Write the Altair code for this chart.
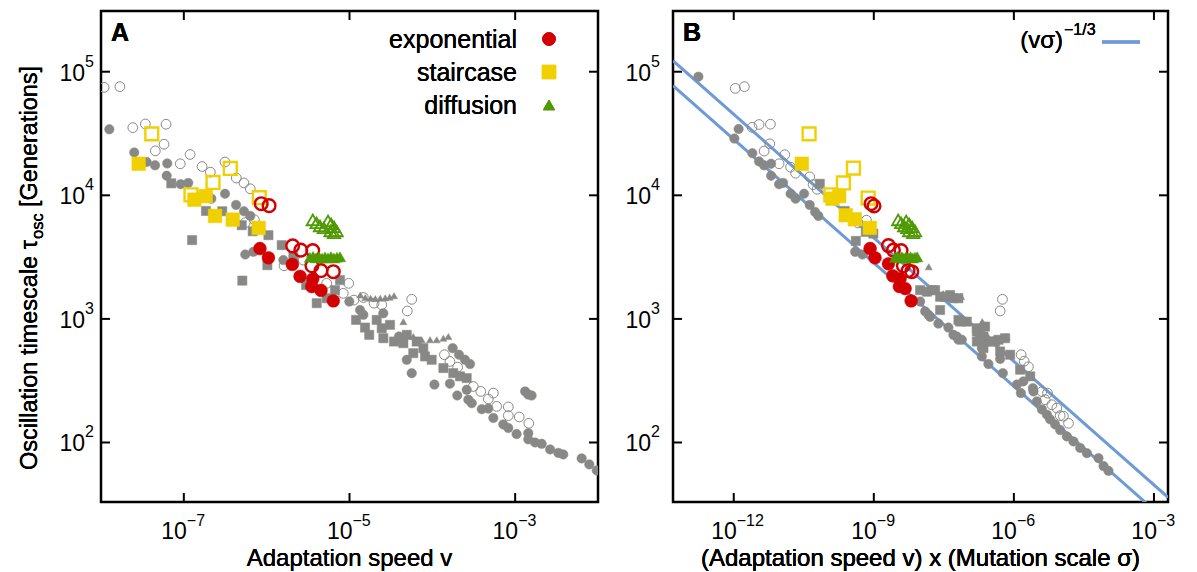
import altair as alt
import pandas as pd

FONT = "Liberation Sans"
GRAY = "#888886"
RED = "#d20000"
YEL = "#f0d000"
GRN = "#4f9a05"
BLUE = "#6e9bd6"

Y_DOMAIN = [33, 3.1e5]
A_X_DOMAIN = [1e-8, 1e-2]
B_X_DOMAIN = [5e-14, 2e-3]

# ---------------- Panel A : adaptation speed v ----------------
A_gray_open_v = [1.09e-8, 1.69e-8, 2.42e-8, 3.43e-8, 6.1e-8, 5.77e-8, 4.53e-8, 1.19e-7, 9.06e-8, 1.66e-7,
                 2.09e-7, 3.14e-7, 4.3e-7, 5.32e-7, 6.34e-7, 5.52e-7, 7.1e-7, 1.62e-6, 2.77e-6, 5.31e-6,
                 9.78e-6, 8.41e-6, 1.13e-5, 1.47e-5, 1.98e-5, 2.45e-5, 5.64e-5, 4.99e-5, 1.40e-4, 1.63e-4,
                 2.02e-4, 3.12e-4, 3.84e-4, 4.74e-4, 5.45e-4, 5.98e-4, 8.26e-4, 8.26e-4, 1.12e-3, 1.46e-3]
A_gray_open_t = [74700, 75700, 35300, 37800, 37600, 25900, 22900, 21400, 18000, 17100,
                 15400, 18600, 13800, 12600, 11300, 6010, 6360, 2690, 2990, 1940,
                 1940, 1610, 1420, 1490, 1340, 1300, 1440, 1160, 513, 453,
                 407, 284, 259, 225, 251, 196, 194, 165, 161, 143]

A_gray_fill_v = [1.26e-8, 2.52e-8, 3.56e-8, 4.49e-8, 6.31e-8, 6.21e-8, 9.16e-8, 1.13e-7, 2.15e-7, 3.14e-7,
                 4.27e-7, 5.32e-7, 6.34e-7, 5.52e-7, 6.9e-7, 1.59e-6, 9.95e-6, 1.34e-5, 1.47e-5, 2.56e-5,
                 3.96e-5, 4.91e-5, 5.64e-5, 1.06e-4, 1.63e-4, 1.76e-4, 2.1e-4, 2.48e-4, 2.85e-4, 2.0e-4,
                 2.6e-4, 2.72e-4, 2.99e-4, 3.95e-4, 4.74e-4, 5.45e-4, 7.19e-4, 8.26e-4, 1.04e-3, 1.44e-3,
                 1.44e-3, 1.74e-3, 2.09e-3, 2.64e-3, 3.32e-3, 3.81e-3, 6.35e-3, 7.85e-3, 9.66e-3, 1.32e-3,
                 1.44e-3, 1.58e-3]
A_gray_fill_t = [34200, 22200, 18600, 17500, 18100, 14400, 12300, 12600, 9390, 10300,
                 8360, 7430, 6810, 3320, 3490, 2990, 1380, 1180, 1080, 1110,
                 720, 467, 364, 294, 299, 580, 513, 467, 431, 240,
                 267, 222, 208, 186, 188, 158, 140, 131, 117, 119,
                 106, 100, 97.5, 87.9, 82.4, 80.0, 74.3, 66.5, 59.4, 259,
                 244, 240]

A_gray_sq_v = [7.06e-8, 1.85e-7, 2.91e-7, 5.0e-7, 6.78e-7, 1.05e-6, 1.26e-7, 1.52e-6, 1.02e-6, 5.08e-7,
               2.1e-6, 2.99e-6, 4.02e-6, 5.31e-6, 6.68e-6, 7.68e-6, 1.2e-5, 1.54e-5, 1.73e-5, 2.13e-5,
               2.45e-5, 2.56e-5, 3.08e-5, 3.44e-5, 4.47e-5, 5.89e-5, 7.78e-5, 8.16e-5, 4.07e-5, 4.91e-5,
               6.47e-5, 9.82e-5, 1.36e-4, 1.79e-4, 2.16e-4, 2.6e-4]
A_gray_sq_t = [12500, 7470, 7430, 5730, 5120, 4760, 4340, 3950, 2720, 2040,
               3180, 1880, 1340, 1470, 1710, 2060, 982, 851, 743, 982,
               840, 698, 895, 656, 636, 528, 580, 497, 698, 743,
               656, 467, 400, 364, 343, 332]

A_gray_tri_v = [1.35e-5, 1.55e-5, 1.8e-5, 2.05e-5, 2.35e-5, 2.7e-5, 3.05e-5, 3.45e-5,
                4.47e-5, 4.91e-5, 5.89e-5, 7.44e-5, 9.38e-5, 1.13e-4, 1.36e-4, 1.56e-4]
A_gray_tri_t = [1560, 1490, 1470, 1460, 1470, 1480, 1500, 1540,
                951, 765, 720, 678, 678, 678, 698, 720]

A_stair_open_v = [4.1e-8, 3.64e-7, 2.25e-7, 1.22e-7, 8.15e-7]
A_stair_open_t = [31400, 16500, 12700, 10100, 9570]
A_stair_fill_v = [2.85e-8, 1.34e-7, 1.84e-7, 2.38e-7, 3.89e-7, 8.0e-7]
A_stair_fill_t = [18000, 9220, 9860, 6810, 6360, 5450]

A_exp_open_v = [8.6e-7, 1.07e-6, 2.06e-6, 2.58e-6, 3.6e-6, 3.52e-6, 4.53e-6, 6.38e-6]
A_exp_open_t = [8560, 8250, 3900, 3600, 3570, 2690, 2460, 2410]
A_exp_fill_v = [8.3e-7, 1.05e-6, 2.04e-6, 2.53e-6, 3.6e-6, 3.5e-6, 4.53e-6, 6.38e-6]
A_exp_fill_t = [3710, 3120, 2760, 2210, 2100, 1830, 1700, 1400]

A_diff_open_v = [3.6e-6, 4.0e-6, 4.4e-6, 4.9e-6, 5.5e-6, 6.0e-6, 6.5e-6, 7.0e-6, 5.9e-6, 6.5e-6]
A_diff_open_t = [6320, 5980, 5650, 5450, 6210, 5870, 5550, 5150, 5150, 4970]
A_diff_fill_v = [3.33e-6, 3.63e-6, 3.94e-6, 4.29e-6, 4.66e-6, 5.06e-6, 5.5e-6, 5.98e-6, 6.5e-6, 7.06e-6, 7.68e-6]
A_diff_fill_t = [3150, 3200, 3120, 3180, 3100, 3170, 3120, 3190, 3110, 3160, 3180]

# ---------------- Panel B : v x sigma ----------------
B_gray_open_v = [1.08e-12, 1.69e-12, 2.47e-12, 3.49e-12, 6.1e-12, 5.92e-12, 4.47e-12, 1.24e-11, 9.35e-12, 1.65e-11,
                 2.11e-11, 4.24e-11, 5.01e-11, 6.11e-11, 6.95e-10, 4.61e-10, 5.69e-7, 5.08e-7, 1.43e-6, 1.66e-6,
                 2.05e-6, 3.98e-6, 5.25e-6, 4.68e-6, 6.5e-6, 8.32e-6, 9.8e-6, 1.15e-5, 1.48e-5]
B_gray_open_t = [73300, 75700, 35500, 37400, 37600, 26100, 22800, 21300, 18000, 16900,
                 15100, 14100, 12200, 11200, 6290, 5980, 1440, 1160, 513, 455,
                 410, 258, 251, 222, 202, 190, 165, 163, 143]

B_gray_fill_v = [1.75e-13, 1.27e-12, 1.03e-12, 2.5e-12, 3.49e-12, 4.47e-12, 6.31e-12, 6.31e-12, 9.35e-12, 1.14e-11,
                 1.65e-11, 2.11e-11, 3.21e-11, 4.24e-11, 5.53e-11, 6.5e-11, 3.98e-10, 5.7e-10, 9.82e-9, 1.26e-8,
                 1.48e-8, 1.61e-8, 2.42e-8, 3.96e-8, 5.07e-8, 6.0e-8, 6.49e-8, 7.67e-8, 2.06e-7, 2.06e-7,
                 2.85e-7, 5.08e-7, 5.8e-7, 1.16e-6, 1.6e-6, 1.41e-6, 2.63e-6, 3.1e-6, 3.98e-6, 5.09e-6,
                 5.98e-6, 7.65e-6, 9.8e-6, 1.36e-5, 1.89e-5, 2.63e-5, 3.66e-5, 6.49e-5, 8.32e-5, 1.06e-4,
                 2.55e-6]
B_gray_fill_t = [91200, 34400, 28800, 21900, 18800, 17500, 18000, 14400, 12300, 12600,
                 10300, 9390, 10300, 8360, 7330, 6810, 3490, 3320, 1380, 1150,
                 1080, 1040, 916, 851, 743, 720, 678, 678, 580, 497,
                 431, 474, 364, 294, 312, 251, 259, 215, 185, 168,
                 154, 140, 126, 112, 102, 90.4, 82, 74.7, 64.4, 59,
                 275]

B_gray_sq_v = [6.97e-11, 2.39e-10, 4.12e-10, 6.74e-10, 9.8e-10, 9.82e-9, 1.37e-8, 1.75e-8, 2.06e-8, 2.63e-8,
               3.37e-8, 4.31e-8, 5.07e-8, 6.49e-8, 2.63e-8, 6.49e-8, 7.06e-8, 9.82e-8, 1.61e-7, 1.61e-7,
               1.89e-7, 2.23e-7, 2.42e-7, 2.42e-7, 3.1e-7, 3.96e-7, 4.67e-7, 6.5e-7, 1.61e-7, 2.23e-7,
               5.08e-7, 8.32e-7, 1.36e-6, 2.24e-6]
B_gray_sq_t = [12400, 7470, 4280, 5060, 4900, 1710, 1660, 1710, 1710, 1510,
               1510, 1560, 1470, 1470, 1180, 982, 951, 951, 840, 790,
               743, 720, 867, 656, 656, 656, 678, 698, 656, 580,
               545, 513, 388, 343]

B_gray_tri_v = [1.5e-8, 3.05e-8, 3.5e-8, 4.0e-8, 4.6e-8, 5.2e-8, 5.9e-8, 6.6e-8, 7.4e-8,
                2.1e-7, 2.3e-7, 2.8e-7, 3.5e-7, 4.3e-7, 5.2e-7, 6.2e-7, 7.0e-7]
B_gray_tri_t = [2640, 1600, 1540, 1510, 1500, 1490, 1490, 1500, 1520,
                951, 765, 720, 678, 678, 678, 698, 720]

B_stair_open_v = [4.11e-11, 3.66e-10, 2.23e-10, 1.2e-10, 7.56e-10]
B_stair_open_t = [31400, 16600, 12600, 10100, 9510]
B_stair_fill_v = [2.87e-11, 1.81e-10, 1.30e-10, 2.5e-10, 3.92e-10, 8.22e-10]
B_stair_fill_t = [18000, 9860, 9390, 6900, 6400, 5450]

B_exp_open_v = [8.75e-10, 1.01e-9, 2.06e-9, 2.63e-9, 3.84e-9, 4.3e-9, 5.42e-9, 6.51e-9]
B_exp_open_t = [8560, 8200, 3920, 3600, 3570, 2690, 2460, 2410]
B_exp_fill_v = [8.34e-10, 1.06e-9, 2.06e-9, 2.55e-9, 3.66e-9, 3.53e-9, 4.68e-9, 6.3e-9]
B_exp_fill_t = [3710, 3120, 2790, 2230, 2120, 1830, 1760, 1400]

B_diff_open_v = [3.32e-9, 3.84e-9, 4.46e-9, 5.17e-9, 4.92e-9, 5.71e-9, 6.61e-9, 7.66e-9, 5.71e-9, 6.95e-9]
B_diff_open_t = [6320, 5980, 5650, 5450, 6210, 5870, 5550, 5150, 5150, 4970]
B_diff_fill_v = [2.87e-9, 3.2e-9, 3.6e-9, 4.0e-9, 4.4e-9, 4.9e-9, 5.5e-9, 6.1e-9, 6.8e-9, 7.6e-9, 8.5e-9]
B_diff_fill_t = [3150, 3200, 3120, 3180, 3100, 3170, 3120, 3190, 3110, 3160, 3180]

# reference lines (v sigma)^(-1/3), end points
LINE_X = [5e-14, 2e-3]
LINE_UPPER_T = [122700, 36]
LINE_LOWER_T = [77100, 22.6]

# tick values and labels
A_XTICKS = [1e-7, 1e-5, 1e-3]
A_XEXP = ["\u22127", "\u22125", "\u22123"]
B_XTICKS = [1e-12, 1e-9, 1e-6, 1e-3]
B_XEXP = ["\u221212", "\u22129", "\u22126", "\u22123"]
YTICKS = [1e2, 1e3, 1e4, 1e5]
YEXP = ["2", "3", "4", "5"]

LEGEND_NAMES = ["exponential", "staircase", "diffusion"]

W_A, W_B, H = 497, 495, 491


def df(v, t):
    return pd.DataFrame({"v": v, "t": t})


def panel(W, xdom, S, xticks, xexp, xtitle, letter, ylabel_right, left_panel):
    xs = alt.Scale(type="log", domain=xdom, nice=False)
    ys = alt.Scale(type="log", domain=Y_DOMAIN, nice=False)
    X = alt.X("v:Q", scale=xs, axis=None)
    Y = alt.Y("t:Q", scale=ys, axis=None)
    layers = []

    def sym(data, shape, size, color, filled, sw=1.0):
        if filled:
            m = alt.Chart(data).mark_point(shape=shape, size=size, filled=True, fill=color,
                                           stroke=color, strokeWidth=0.5, opacity=1, clip=True)
        else:
            m = alt.Chart(data).mark_point(shape=shape, size=size, filled=False, stroke=color,
                                           strokeWidth=sw, opacity=1, clip=True)
        return m.encode(x=X, y=Y)

    if not left_panel:
        for lt in (LINE_UPPER_T, LINE_LOWER_T):
            layers.append(alt.Chart(df(LINE_X, lt)).mark_line(color=BLUE, strokeWidth=3, clip=True)
                          .encode(x=X, y=Y))

    layers += [
        sym(df(*S["gray_open"]), "circle", 95, GRAY, False, 1.0),
        sym(df(*S["gray_sq"]), "square", 85, GRAY, True),
        sym(df(*S["gray_tri"]), "triangle-up", 50, GRAY, True),
        sym(df(*S["gray_fill"]), "circle", 90, GRAY, True),
        sym(df(*S["stair_open"]), "square", 165, YEL, False, 2.4),
        sym(df(*S["stair_fill"]), "square", 185, YEL, True),
        sym(df(*S["exp_open"]), "circle", 160, RED, False, 2.4),
        sym(df(*S["exp_fill"]), "circle", 165, RED, True),
        sym(df(*S["diff_open"]), "triangle-up", 150, GRN, False, 1.8),
        sym(df(*S["diff_fill"]), "triangle-up", 130, GRN, True),
    ]

    # inward ticks
    xt = pd.DataFrame({"v": xticks, "e": xexp})
    yt = pd.DataFrame({"t": YTICKS, "e": YEXP})
    rule = dict(color="black", strokeWidth=2)
    layers += [
        alt.Chart(xt).mark_rule(**rule).encode(x=X, y=alt.value(H), y2=alt.value(H - 9)),
        alt.Chart(xt).mark_rule(**rule).encode(x=X, y=alt.value(0), y2=alt.value(9)),
        alt.Chart(yt).mark_rule(**rule).encode(y=Y, x=alt.value(0), x2=alt.value(9)),
        alt.Chart(yt).mark_rule(**rule).encode(y=Y, x=alt.value(W - 9), x2=alt.value(W)),
    ]

    # tick labels 10^n
    layers += [
        alt.Chart(xt).mark_text(align="right", baseline="alphabetic", fontSize=23, font=FONT, dx=3)
        .encode(x=X, y=alt.value(H + 37), text=alt.value("10")),
        alt.Chart(xt).mark_text(align="left", baseline="alphabetic", fontSize=16, font=FONT, dx=3)
        .encode(x=X, y=alt.value(H + 24), text="e:N"),
        alt.Chart(yt).mark_text(align="right", baseline="middle", fontSize=23, font=FONT, dy=2)
        .encode(y=Y, x=alt.value(ylabel_right), text=alt.value("10")),
        alt.Chart(yt).mark_text(align="left", baseline="middle", fontSize=16, font=FONT, dy=-10)
        .encode(y=Y, x=alt.value(ylabel_right), text="e:N"),
    ]

    # x title
    layers.append(alt.Chart(xt).mark_text(align="center", baseline="alphabetic", fontSize=24, font=FONT)
                  .encode(x=alt.value(W / 2), y=alt.value(H + 64), text=alt.value(xtitle)))
    # panel letter
    layers.append(alt.Chart(xt).mark_text(align="left", baseline="middle", fontSize=25, font=FONT,
                                          fontWeight="bold")
                  .encode(x=alt.value(10), y=alt.value(22), text=alt.value(letter)))
    return layers, X, Y


SA = {"gray_open": (A_gray_open_v, A_gray_open_t), "gray_fill": (A_gray_fill_v, A_gray_fill_t),
      "gray_sq": (A_gray_sq_v, A_gray_sq_t), "gray_tri": (A_gray_tri_v, A_gray_tri_t),
      "stair_open": (A_stair_open_v, A_stair_open_t), "stair_fill": (A_stair_fill_v, A_stair_fill_t),
      "exp_open": (A_exp_open_v, A_exp_open_t), "exp_fill": (A_exp_fill_v, A_exp_fill_t),
      "diff_open": (A_diff_open_v, A_diff_open_t), "diff_fill": (A_diff_fill_v, A_diff_fill_t)}
SB = {"gray_open": (B_gray_open_v, B_gray_open_t), "gray_fill": (B_gray_fill_v, B_gray_fill_t),
      "gray_sq": (B_gray_sq_v, B_gray_sq_t), "gray_tri": (B_gray_tri_v, B_gray_tri_t),
      "stair_open": (B_stair_open_v, B_stair_open_t), "stair_fill": (B_stair_fill_v, B_stair_fill_t),
      "exp_open": (B_exp_open_v, B_exp_open_t), "exp_fill": (B_exp_fill_v, B_exp_fill_t),
      "diff_open": (B_diff_open_v, B_diff_open_t), "diff_fill": (B_diff_fill_v, B_diff_fill_t)}

la, XA, YA = panel(W_A, A_X_DOMAIN, SA, A_XTICKS, A_XEXP, "Adaptation speed v", "A", -16, True)
lb, XB, YB = panel(W_B, B_X_DOMAIN, SB, B_XTICKS, B_XEXP,
                   "(Adaptation speed v) x (Mutation scale \u03c3)", "B", -22, False)

# ---- legend panel A ----
leg = pd.DataFrame({"name": LEGEND_NAMES})
for i, (name, shape, col, size) in enumerate([(LEGEND_NAMES[0], "circle", RED, 165),
                                               (LEGEND_NAMES[1], "square", YEL, 185),
                                               (LEGEND_NAMES[2], "triangle-up", GRN, 130)]):
    yy = 29 + 33 * i
    la.append(alt.Chart(leg).mark_text(align="right", baseline="middle", fontSize=25, font=FONT)
              .encode(x=alt.value(416), y=alt.value(yy), text=alt.value(name)))
    la.append(alt.Chart(leg).mark_point(shape=shape, size=size, filled=True, fill=col, stroke=col,
                                        strokeWidth=0.5, opacity=1)
              .encode(x=alt.value(448), y=alt.value(yy - 1)))

# y-axis title of panel A (with subscript)
la += [
    alt.Chart(leg).mark_text(align="right", baseline="alphabetic", angle=270, fontSize=23.5, font=FONT)
    .encode(x=alt.value(-64), y=alt.value(229), text=alt.value("Oscillation timescale \u03c4")),
    alt.Chart(leg).mark_text(align="left", baseline="alphabetic", angle=270, fontSize=16.5, font=FONT)
    .encode(x=alt.value(-58), y=alt.value(228), text=alt.value("osc")),
    alt.Chart(leg).mark_text(align="left", baseline="alphabetic", angle=270, fontSize=23.5, font=FONT)
    .encode(x=alt.value(-64), y=alt.value(196), text=alt.value("[Generations]")),
]

# ---- legend panel B ----
lb += [
    alt.Chart(leg).mark_text(align="right", baseline="middle", fontSize=24, font=FONT)
    .encode(x=alt.value(390), y=alt.value(30), text=alt.value("(v\u03c3)")),
    alt.Chart(leg).mark_text(align="left", baseline="middle", fontSize=16, font=FONT)
    .encode(x=alt.value(391), y=alt.value(19), text=alt.value("\u22121/3")),
    alt.Chart(leg).mark_rule(color=BLUE, strokeWidth=3)
    .encode(x=alt.value(429), x2=alt.value(467), y=alt.value(31)),
]

A = alt.layer(*la).properties(width=W_A, height=H)
B = alt.layer(*lb).properties(width=W_B, height=H)

chart = (alt.hconcat(A, B, spacing=75, bounds="flush")
         .properties(padding={"left": 16, "top": 8, "right": 5, "bottom": 5}, background="white")
         .configure_view(stroke="black", strokeWidth=2.5))

chart.save("out.html", embed_options={"renderer": "svg", "actions": False})
